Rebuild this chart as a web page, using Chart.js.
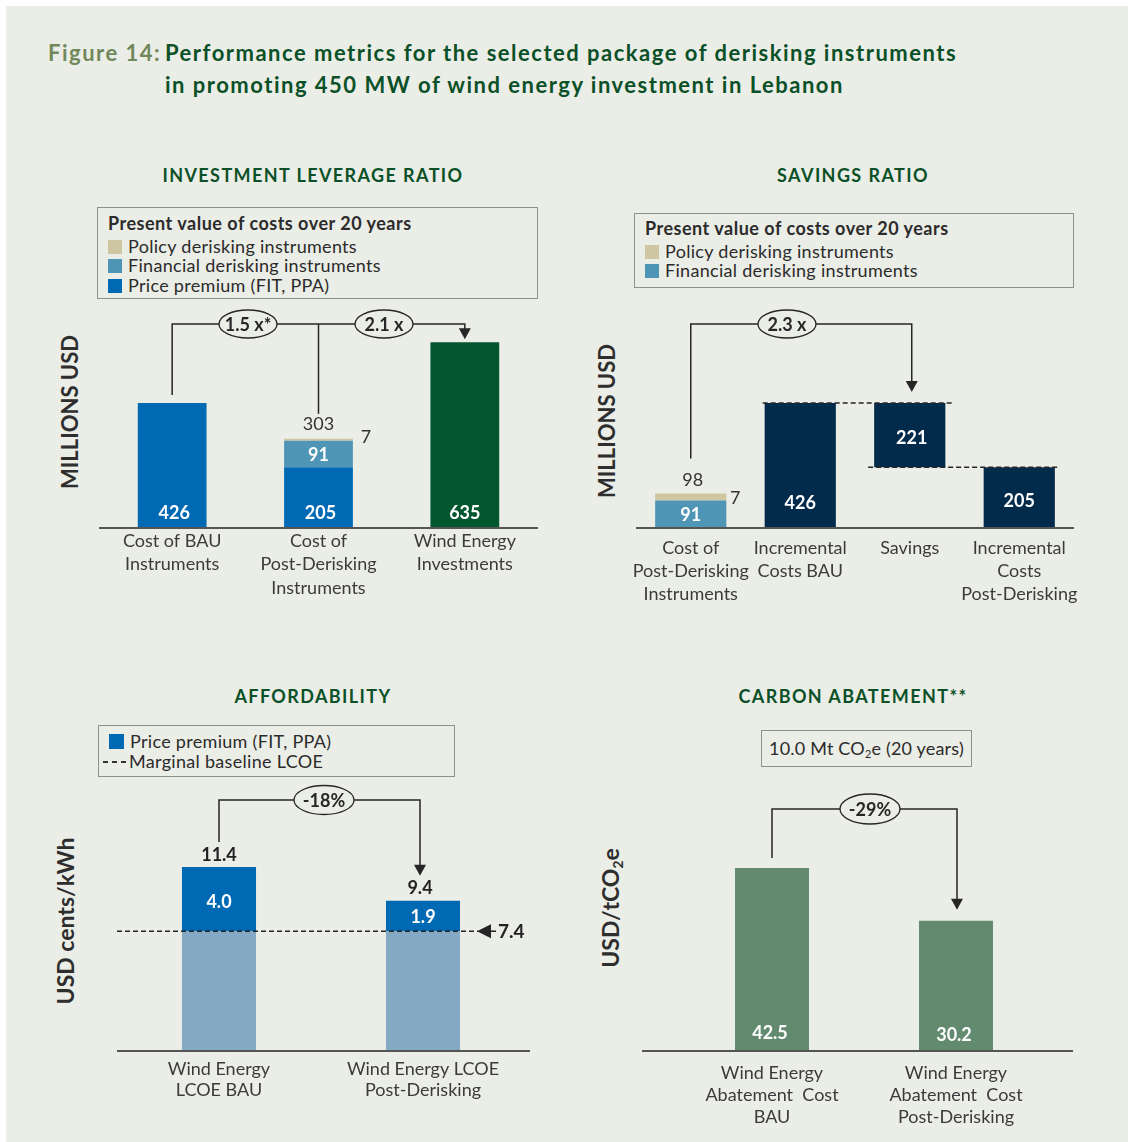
<!DOCTYPE html>
<html>
<head>
<meta charset="utf-8">
<script src="https://cdn.jsdelivr.net/npm/chart.js@4.4.1/dist/chart.umd.min.js"></script>
<style>
html, body { margin: 0; padding: 0; background: #fff; }
#page { position: relative; width: 1128px; height: 1142px; overflow: hidden; font-family: Lato, "Open Sans", sans-serif; color: #333; }
#panel { position: absolute; left: 6px; top: 6px; right: 0; bottom: 0; background: #ebede7; }
canvas { position: absolute; left: 0; top: 0; }
.t { position: absolute; white-space: nowrap; }
.head { font-size: 22px; font-weight: 700; line-height: 32px; letter-spacing: 1.5px; }
.ctitle { font-size: 18px; font-weight: 700; color: #0b5128; letter-spacing: 1.4px; line-height: 22px; transform: translateX(-50%); }
.box { position: absolute; box-sizing: border-box; border: 1.5px solid #8d928d; }
.row { position: absolute; left: 10px; font-size: 18px; letter-spacing: 0.3px; line-height: 20px; color: #2b2b2b; white-space: nowrap; }
.row b { font-weight: 700; letter-spacing: 0.5px; }
.sw { display: inline-block; width: 14px; height: 14px; vertical-align: -1px; margin-right: 6px; }
.ytitle { font-weight: 700; color: #2e2e2e; transform: translate(-50%, -50%) rotate(-90deg); line-height: 26px; }
sub { font-size: 60%; vertical-align: -0.3em; line-height: 0; }
</style>
</head>
<body>
<div id="page">
  <div id="panel"></div>

  <div class="t head" style="left:48px; top:37px; color:#71885a;">Figure 14:</div>
  <div class="t head" style="left:165px; top:37px; color:#0b5128;">Performance metrics for the selected package of derisking instruments<br>in promoting 450 MW of wind energy investment in Lebanon</div>

  <div class="t ctitle" style="left:313px; top:164px;">INVESTMENT LEVERAGE RATIO</div>
  <div class="t ctitle" style="left:853px; top:164px;">SAVINGS RATIO</div>
  <div class="t ctitle" style="left:313px; top:685px;">AFFORDABILITY</div>
  <div class="t ctitle" style="left:853px; top:685px;">CARBON ABATEMENT**</div>

  <div class="box" style="left:97px; top:207px; width:441px; height:92px;">
    <div class="row" style="top:5px;"><b>Present value of costs over 20 years</b></div>
    <div class="row" style="top:28px;"><span class="sw" style="background:#cfc6a2"></span>Policy derisking instruments</div>
    <div class="row" style="top:47px;"><span class="sw" style="background:#4f95b6"></span>Financial derisking instruments</div>
    <div class="row" style="top:67px;"><span class="sw" style="background:#0069b4"></span>Price premium (FIT, PPA)</div>
  </div>

  <div class="box" style="left:634px; top:213px; width:440px; height:75px;">
    <div class="row" style="top:4px;"><b>Present value of costs over 20 years</b></div>
    <div class="row" style="top:27px;"><span class="sw" style="background:#cfc6a2"></span>Policy derisking instruments</div>
    <div class="row" style="top:46px;"><span class="sw" style="background:#4f95b6"></span>Financial derisking instruments</div>
  </div>

  <div class="box" style="left:98px; top:725px; width:357px; height:52px;">
    <div class="row" style="top:5px;"><span class="sw" style="background:#0069b4; width:15px; height:15px;"></span>Price premium (FIT, PPA)</div>
    <div class="row" style="top:25px; left:4px;"><span style="display:inline-block; width:23px; height:2px; vertical-align:5px; margin-right:3px; background:repeating-linear-gradient(to right, #333 0 5px, transparent 5px 9px);"></span>Marginal baseline LCOE</div>
  </div>

  <div class="box" style="left:761px; top:730px; width:211px; height:37px;">
    <div class="row" style="top:7px; left:0; width:100%; text-align:center; letter-spacing:0.2px;">10.0 Mt CO<sub>2</sub>e (20 years)</div>
  </div>

  <div class="t ytitle" style="left:70px; top:412px; font-size:22px;">MILLIONS USD</div>
  <div class="t ytitle" style="left:607px; top:421px; font-size:22px;">MILLIONS USD</div>
  <div class="t ytitle" style="left:65px; top:921px; font-size:23px;">USD cents/kWh</div>
  <div class="t ytitle" style="left:610px; top:908px; font-size:23px;">USD/tCO<sub>2</sub>e</div>

  <canvas id="leverage" width="1128" height="1142"></canvas>
  <canvas id="savings" width="1128" height="1142"></canvas>
  <canvas id="lcoe" width="1128" height="1142"></canvas>
  <canvas id="abatement" width="1128" height="1142"></canvas>
</div>

<script>
// Investment leverage ratio (millions USD)
const leverageLabels = [['Cost of BAU', 'Instruments'], ['Cost of', 'Post-Derisking', 'Instruments'], ['Wind Energy', 'Investments']];
const leveragePremium = [426, 205, null];
const leverageFinancial = [null, 91, null];
const leveragePolicy = [null, 7, null];
const leverageWind = [null, null, 635];
const leverageRatios = ['1.5 x*', '2.1 x'];

// Savings ratio (millions USD)
const savingsLabels = [['Cost of', 'Post-Derisking', 'Instruments'], ['Incremental', 'Costs BAU'], ['Savings'], ['Incremental', 'Costs', 'Post-Derisking']];
const savingsFinancial = [91, null, null, null];
const savingsPolicy = [7, null, null, null];
const savingsIncremental = [null, 426, [205, 426], 205];
const savingsRatio = '2.3 x';

// Affordability (USD cents/kWh)
const lcoeLabels = [['Wind Energy', 'LCOE BAU'], ['Wind Energy LCOE', 'Post-Derisking']];
const lcoeBaseline = [7.4, 7.4];
const lcoePremium = [4.0, 1.9];
const lcoeTotal = [11.4, 9.4];
const lcoeChange = '-18%';

// Carbon abatement (USD/tCO2e)
const abatementLabels = [['Wind Energy', 'Abatement  Cost', 'BAU'], ['Wind Energy', 'Abatement  Cost', 'Post-Derisking']];
const abatementCost = [42.5, 30.2];
const abatementChange = '-29%';

const BG = '#ebede7';
const INK = '#262626';
const FONT = 'Lato, "Open Sans", sans-serif';

function bar(chart, ds, i) {
    const el = chart.getDatasetMeta(ds).data[i];
    return {
        x: el.x,
        top: Math.min(el.y, el.base),
        bottom: Math.max(el.y, el.base),
        left: el.x - el.width / 2,
        right: el.x + el.width / 2
    };
}

function text(ctx, s, x, y, opts) {
    opts = opts || {};
    ctx.save();
    ctx.font = (opts.bold ? '700 ' : '400 ') + (opts.size || 17) + 'px ' + FONT;
    ctx.fillStyle = opts.color || INK;
    ctx.textAlign = opts.align || 'center';
    ctx.textBaseline = 'middle';
    ctx.fillText(String(s), x, y);
    ctx.restore();
}

function baseline(chart, x0, x1) {
    const ctx = chart.ctx;
    const y = chart.scales.y.getPixelForValue(0) + 1;
    ctx.save();
    ctx.strokeStyle = '#555';
    ctx.lineWidth = 2;
    ctx.beginPath();
    ctx.moveTo(x0, y);
    ctx.lineTo(x1, y);
    ctx.stroke();
    ctx.restore();
}

// polyline; the last point is the tip of a down arrow when arrow is true
function bracket(ctx, pts, arrow) {
    ctx.save();
    ctx.strokeStyle = INK;
    ctx.fillStyle = INK;
    ctx.lineWidth = 1.5;
    ctx.beginPath();
    const last = pts.length - 1;
    pts.forEach(function (p, i) {
        const y = (arrow && i === last) ? p[1] - 10 : p[1];
        if (i === 0) ctx.moveTo(p[0], y); else ctx.lineTo(p[0], y);
    });
    ctx.stroke();
    if (arrow) {
        const tip = pts[last];
        ctx.beginPath();
        ctx.moveTo(tip[0] - 6, tip[1] - 11);
        ctx.lineTo(tip[0] + 6, tip[1] - 11);
        ctx.lineTo(tip[0], tip[1]);
        ctx.closePath();
        ctx.fill();
    }
    ctx.restore();
}

function badge(ctx, s, x, y, rx, ry) {
    ctx.save();
    ctx.beginPath();
    ctx.ellipse(x, y, rx, ry, 0, 0, Math.PI * 2);
    ctx.fillStyle = BG;
    ctx.fill();
    ctx.strokeStyle = INK;
    ctx.lineWidth = 1.3;
    ctx.stroke();
    ctx.restore();
    text(ctx, s, x, y + 1, {bold: true, size: 18});
}

function dashed(ctx, x0, x1, y) {
    ctx.save();
    ctx.strokeStyle = INK;
    ctx.lineWidth = 1.5;
    ctx.setLineDash([5, 3]);
    ctx.beginPath();
    ctx.moveTo(x0, y);
    ctx.lineTo(x1, y);
    ctx.stroke();
    ctx.restore();
}

function makeChart(id, labels, datasets, area, plugin) {
    const yMax = (area.zero - area.top) / area.pxPerUnit;
    return new Chart(document.getElementById(id), {
        type: 'bar',
        data: {labels: labels, datasets: datasets},
        options: {
            responsive: false,
            animation: false,
            events: [],
            layout: {padding: {left: area.left, right: 1128 - area.right, top: area.top, bottom: 0}},
            plugins: {legend: {display: false}, tooltip: {enabled: false}},
            datasets: {bar: {categoryPercentage: 1, barPercentage: area.barPct}},
            scales: {
                x: {
                    stacked: true,
                    grid: {display: false, drawTicks: false},
                    border: {display: false},
                    ticks: {
                        autoSkip: false,
                        maxRotation: 0,
                        minRotation: 0,
                        padding: area.tickPad,
                        color: '#3b3b3b',
                        font: {family: FONT, size: 18, lineHeight: area.lineHeight + 'px'}
                    },
                    afterFit: function (scale) { scale.height = 1142 - area.zero; }
                },
                y: {stacked: true, display: false, min: 0, max: yMax}
            }
        },
        plugins: [plugin]
    });
}

// ---------- Investment leverage ratio
makeChart('leverage', leverageLabels, [
    {data: leveragePremium, backgroundColor: '#0069b4'},
    {data: leverageFinancial, backgroundColor: '#4f95b6'},
    {data: leveragePolicy, backgroundColor: '#cfc6a2'},
    {data: leverageWind, backgroundColor: '#03572f'}
], {left: 99, right: 538, top: 300, zero: 527, pxPerUnit: 0.291, barPct: 0.47, tickPad: 2, lineHeight: 23.5}, {
    id: 'leverageMarks',
    afterDatasetsDraw(chart) {
        const ctx = chart.ctx;
        const bau = bar(chart, 0, 0);
        const postPrem = bar(chart, 0, 1);
        const postFin = bar(chart, 1, 1);
        const postPol = bar(chart, 2, 1);
        const wind = bar(chart, 3, 2);
        const total = leveragePremium[1] + leverageFinancial[1] + leveragePolicy[1];
        const white = {bold: true, size: 18, color: '#fff'};
        baseline(chart, 99, 538);
        text(ctx, leveragePremium[0], bau.x + 2, bau.bottom - 14, white);
        text(ctx, leveragePremium[1], postPrem.x + 2, postPrem.bottom - 14, white);
        text(ctx, leverageFinancial[1], postFin.x, (postFin.top + postFin.bottom) / 2 + 1, white);
        text(ctx, leverageWind[2], wind.x, wind.bottom - 14, white);
        text(ctx, total, postPol.x, postPol.top - 15, {size: 18, color: '#333'});
        text(ctx, leveragePolicy[1], postPol.right + 13, postPol.top - 2, {size: 18, color: '#333'});
        const lvl = 324;
        bracket(ctx, [[bau.x, bau.top - 8], [bau.x, lvl], [wind.x, lvl], [wind.x, wind.top - 3]], true);
        bracket(ctx, [[postPol.x, postPol.top - 25], [postPol.x, lvl]], false);
        badge(ctx, leverageRatios[0], 248, lvl, 29, 14);
        badge(ctx, leverageRatios[1], 384, lvl, 29, 14);
    }
});

// ---------- Savings ratio
makeChart('savings', savingsLabels, [
    {data: savingsFinancial, backgroundColor: '#4f95b6'},
    {data: savingsPolicy, backgroundColor: '#cfc6a2', minBarLength: 7},
    {data: savingsIncremental, backgroundColor: '#022a4b'}
], {left: 636, right: 1074, top: 300, zero: 527, pxPerUnit: 0.291, barPct: 0.65, tickPad: 10, lineHeight: 23}, {
    id: 'savingsMarks',
    afterDatasetsDraw(chart) {
        const ctx = chart.ctx;
        const fin = bar(chart, 0, 0);
        const pol = bar(chart, 1, 0);
        const inc = bar(chart, 2, 1);
        const sav = bar(chart, 2, 2);
        const post = bar(chart, 2, 3);
        const white = {bold: true, size: 18, color: '#fff'};
        const saved = savingsIncremental[2][1] - savingsIncremental[2][0];
        baseline(chart, 636, 1074);
        text(ctx, savingsFinancial[0], fin.x, fin.bottom - 12, white);
        text(ctx, savingsFinancial[0] + savingsPolicy[0], pol.x + 2, pol.top - 13, {size: 18, color: '#333'});
        text(ctx, savingsPolicy[0], pol.right + 9, pol.top + 5, {size: 18, color: '#333'});
        text(ctx, savingsIncremental[1], inc.x, inc.bottom - 24, white);
        text(ctx, saved, sav.x + 2, sav.bottom - 29, white);
        text(ctx, savingsIncremental[3], post.x, post.bottom - 26, white);
        dashed(ctx, inc.left - 2, sav.right + 8, inc.top);
        dashed(ctx, sav.left - 6, post.right + 4, sav.bottom);
        const lvl = 324;
        bracket(ctx, [[fin.x, pol.top - 35], [fin.x, lvl], [sav.x + 2, lvl], [sav.x + 2, inc.top - 11]], true);
        badge(ctx, savingsRatio, 787, lvl, 29, 14);
    }
});

// ---------- Affordability
makeChart('lcoe', lcoeLabels, [
    {data: lcoeBaseline, backgroundColor: '#84a9c3'},
    {data: lcoePremium, backgroundColor: '#0069b4'}
], {left: 117, right: 525, top: 780, zero: 1050, pxPerUnit: 16.05, barPct: 0.363, tickPad: 8, lineHeight: 21.5}, {
    id: 'lcoeMarks',
    afterDatasetsDraw(chart) {
        const ctx = chart.ctx;
        const p0 = bar(chart, 1, 0);
        const p1 = bar(chart, 1, 1);
        const white = {bold: true, size: 18, color: '#fff'};
        const dark = {bold: true, size: 18, color: '#222'};
        baseline(chart, 117, 530);
        text(ctx, lcoePremium[0].toFixed(1), p0.x, (p0.top + p0.bottom) / 2 + 3, white);
        text(ctx, lcoePremium[1].toFixed(1), p1.x, (p1.top + p1.bottom) / 2 + 1, white);
        text(ctx, lcoeTotal[0].toFixed(1), p0.x, p0.top - 12, dark);
        text(ctx, lcoeTotal[1].toFixed(1), p1.x - 3, p1.top - 13, dark);
        // marginal baseline LCOE
        const yb = chart.scales.y.getPixelForValue(lcoeBaseline[0]);
        dashed(ctx, 117, 478, yb);
        ctx.save();
        ctx.fillStyle = INK;
        ctx.beginPath();
        ctx.moveTo(477, yb);
        ctx.lineTo(491, yb - 7);
        ctx.lineTo(491, yb + 7);
        ctx.closePath();
        ctx.fill();
        ctx.fillRect(490, yb - 0.75, 6, 1.5);
        ctx.restore();
        text(ctx, lcoeBaseline[0].toFixed(1), 498, yb + 1, {bold: true, size: 19, color: '#222', align: 'left'});
        const lvl = 800;
        bracket(ctx, [[p0.x, p0.top - 25], [p0.x, lvl], [p1.x - 3, lvl], [p1.x - 3, p1.top - 25]], true);
        badge(ctx, lcoeChange, 324, lvl, 30, 14.5);
    }
});

// ---------- Carbon abatement
makeChart('abatement', abatementLabels, [
    {data: abatementCost, backgroundColor: '#628a6e'}
], {left: 680, right: 1048, top: 780, zero: 1050, pxPerUnit: 4.282, barPct: 0.402, tickPad: 12, lineHeight: 22}, {
    id: 'abatementMarks',
    afterDatasetsDraw(chart) {
        const ctx = chart.ctx;
        const b0 = bar(chart, 0, 0);
        const b1 = bar(chart, 0, 1);
        const white = {bold: true, size: 18, color: '#fff'};
        baseline(chart, 642, 1073);
        text(ctx, abatementCost[0].toFixed(1), b0.x - 2, b0.bottom - 17, white);
        text(ctx, abatementCost[1].toFixed(1), b1.x - 2, b1.bottom - 15, white);
        const lvl = 809;
        bracket(ctx, [[b0.x, b0.top - 10], [b0.x, lvl], [b1.x + 1, lvl], [b1.x + 1, b1.top - 11]], true);
        badge(ctx, abatementChange, 870, lvl, 30, 15);
    }
});
</script>
</body>
</html>
